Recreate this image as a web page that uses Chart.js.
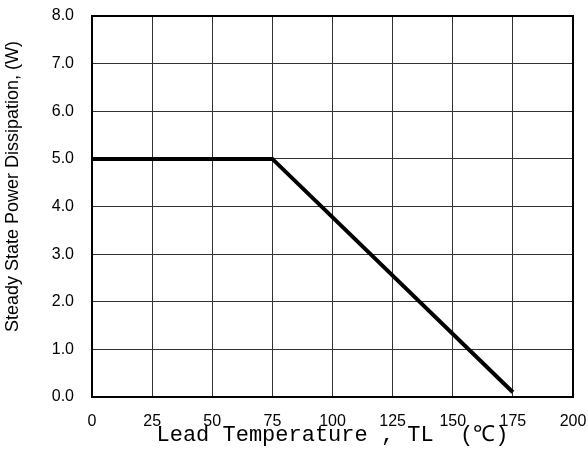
<!DOCTYPE html>
<html>
<head>
<meta charset="utf-8">
<script src="https://cdn.jsdelivr.net/npm/chart.js@4"></script>
<style>
  html, body { margin: 0; padding: 0; background: #fff; }
  #wrap { width: 588px; height: 455px; }
</style>
</head>
<body>
<div id="wrap"><canvas id="derating"></canvas></div>
<script>
// curve corners: lead temperature (C) and power (W)
var temps = [0, 75, 175];
var power = [5.0, 5.0, 0.1];
var xTicks = [0, 25, 50, 75, 100, 125, 150, 175, 200];
var yTicks = [0, 1, 2, 3, 4, 5, 6, 7, 8];

var frame = {
  id: "frame",
  afterDraw: function(chart){
    var a = chart.chartArea, c = chart.ctx;
    c.save();
    c.strokeStyle = "#000";
    c.lineWidth = 2;
    c.strokeRect(a.left, a.top, a.right - a.left, a.bottom - a.top);
    c.restore();
  }
};

function noOverhang(s){
  s.paddingTop = 0; s.paddingBottom = 0; s.paddingLeft = 0; s.paddingRight = 0;
}

var pts = temps.map(function(t, i){ return { x: t, y: power[i] }; });

new Chart(document.getElementById("derating").getContext("2d"), {
  type: "line",
  data: {
    datasets: [{
      data: pts,
      borderColor: "#000",
      borderWidth: 4,
      pointRadius: 0,
      tension: 0,
      fill: false
    }]
  },
  options: {
    responsive: true,
    maintainAspectRatio: false,
    animation: false,
    layout: { padding: { left: 0, right: 15, top: 16, bottom: 0 } },
    plugins: { legend: { display: false }, tooltip: { enabled: false } },
    scales: {
      x: {
        type: "linear",
        min: 0, max: 200,
        afterBuildTicks: function(s){ s.ticks = xTicks.map(function(v){ return { value: v }; }); },
        afterFit: function(s){ s.height = 58; noOverhang(s); },
        grid: { color: "#333", lineWidth: 1, drawTicks: false },
        border: { display: false },
        ticks: { color: "#000", padding: 15, maxRotation: 0, font: { family: "Liberation Sans", size: 16 } },
        title: {
          display: true,
          text: "Lead Temperature , TL  (\u2103)",
          color: "#000",
          font: { family: "Liberation Mono", size: 22 },
          padding: { top: 0, bottom: 7 }
        }
      },
      y: {
        min: 0, max: 8,
        afterBuildTicks: function(s){ s.ticks = yTicks.map(function(v){ return { value: v }; }); },
        afterFit: function(s){ s.width = 92; noOverhang(s); },
        grid: { color: "#333", lineWidth: 1, drawTicks: false },
        border: { display: false },
        ticks: {
          color: "#000", padding: 18,
          font: { family: "Liberation Sans", size: 16 },
          callback: function(v){ return Number(v).toFixed(1); }
        },
        title: {
          display: true,
          text: "        Steady State Power Dissipation, (W)",
          color: "#000",
          font: { family: "Liberation Sans", size: 18 },
          padding: { top: 2, bottom: 0 }
        }
      }
    }
  },
  plugins: [frame]
});
</script>
</body>
</html>
